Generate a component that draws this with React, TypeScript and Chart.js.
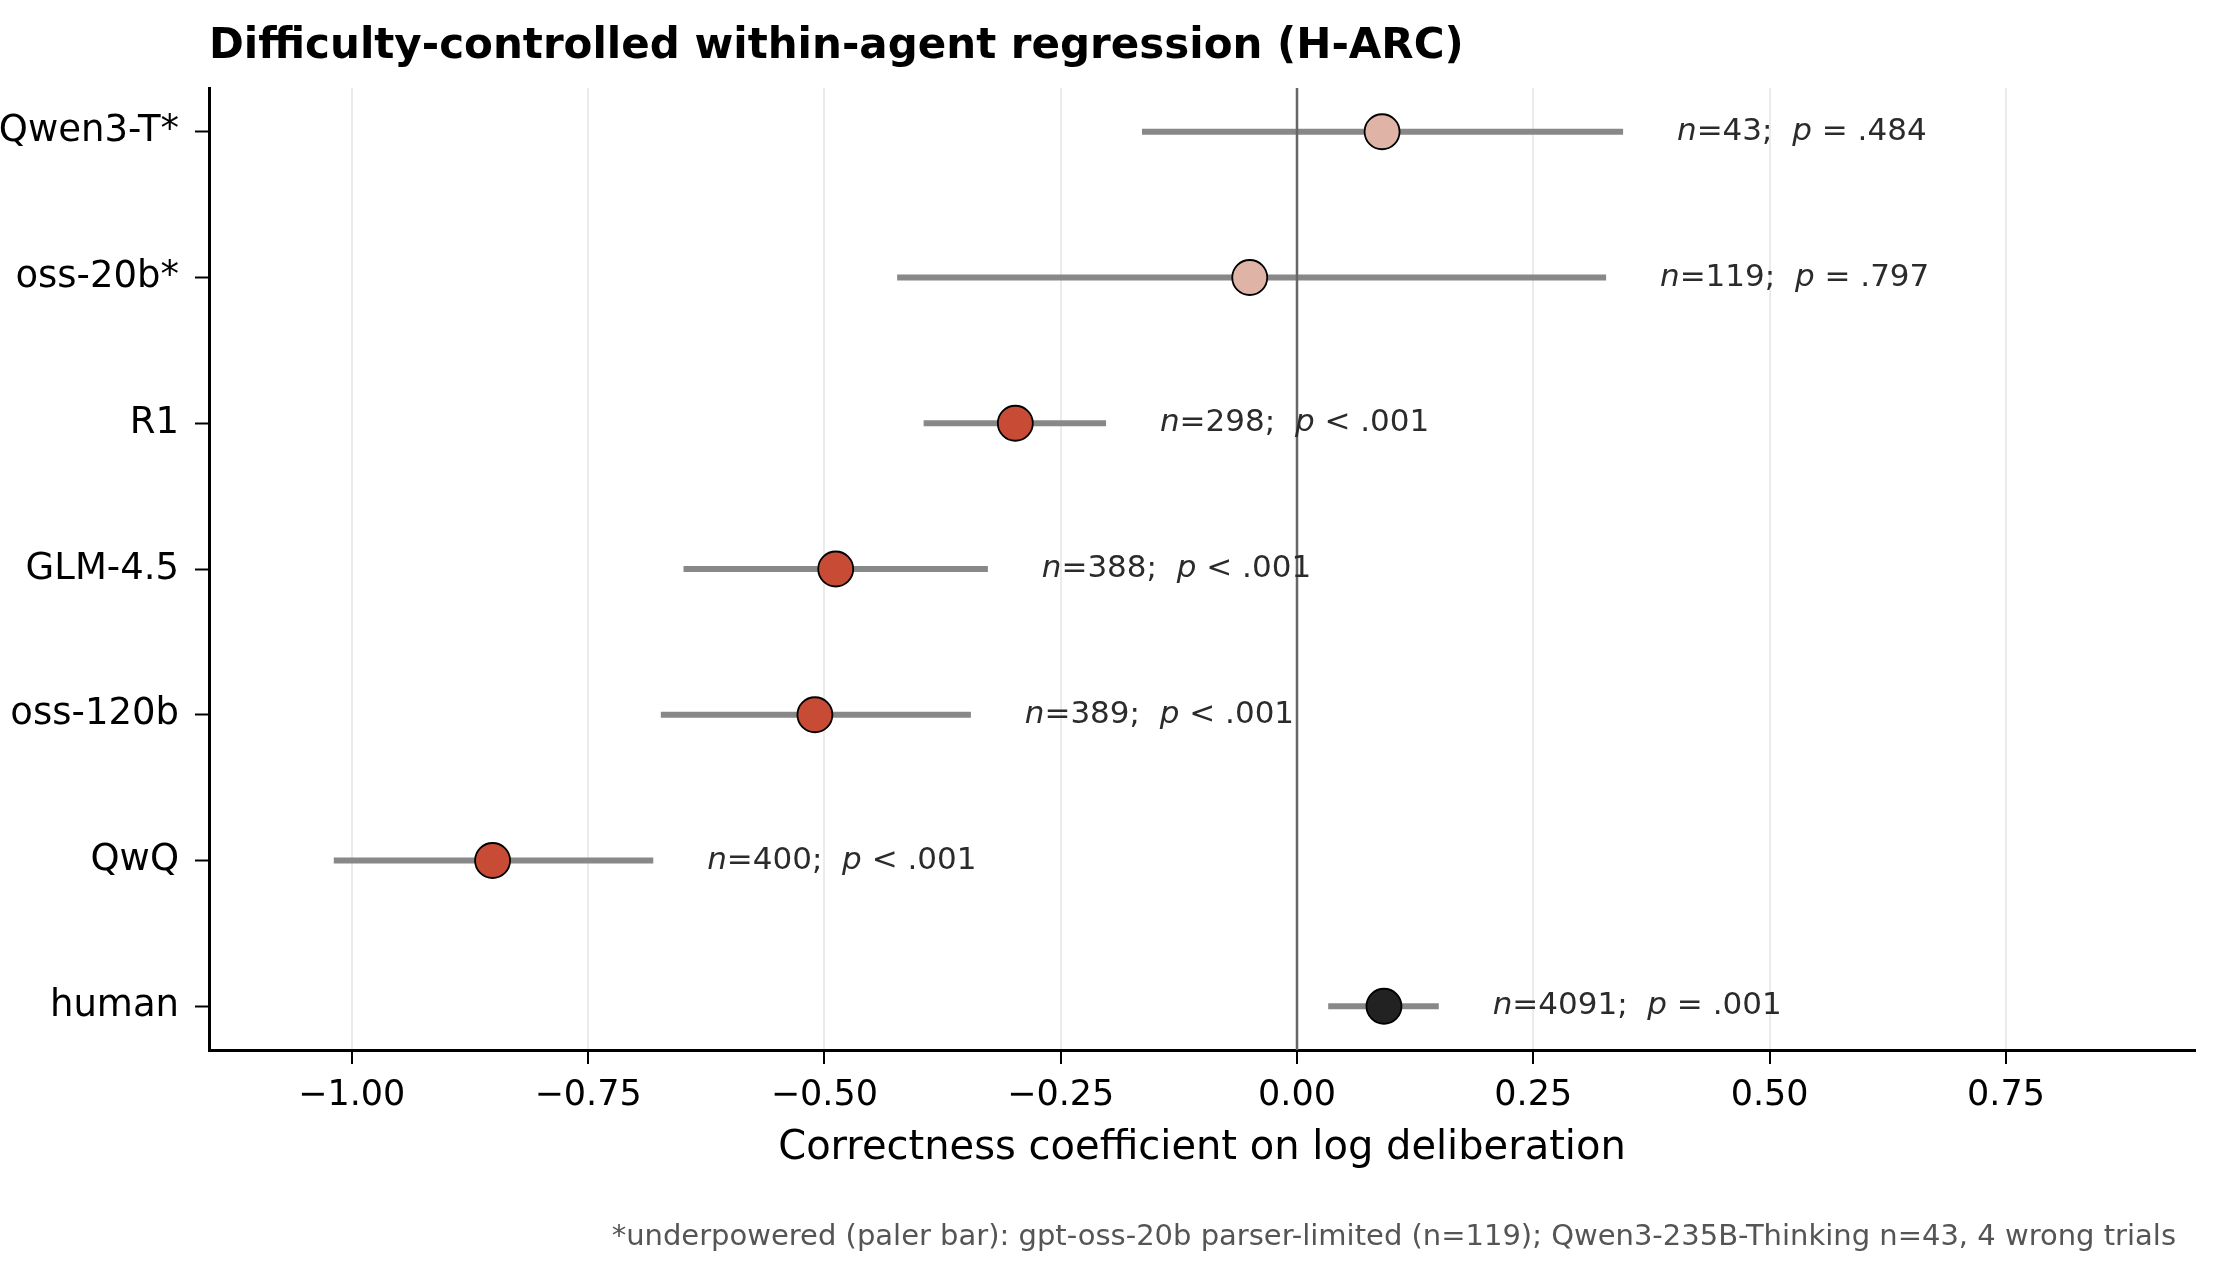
import React, { useEffect, useRef } from "react";
import { Chart, registerables } from "chart.js";

Chart.register(...registerables);

const categories = ["Qwen3-T*", "oss-20b*", "R1", "GLM-4.5", "oss-120b", "QwQ", "human"];
const estimates = [0.09, -0.05, -0.298, -0.488, -0.51, -0.851, 0.092];
const ciLow = [-0.164, -0.423, -0.395, -0.649, -0.673, -1.019, 0.033];
const ciHigh = [0.345, 0.327, -0.202, -0.327, -0.345, -0.681, 0.15];
const nValues = [43, 119, 298, 388, 389, 400, 4091];
const pLabels = ["= .484", "= .797", "< .001", "< .001", "< .001", "< .001", "= .001"];
const groups = ["underpowered", "underpowered", "sig", "sig", "sig", "sig", "human"];
const xTicks = [-1, -0.75, -0.5, -0.25, 0, 0.25, 0.5, 0.75];

const TITLE = "Difficulty-controlled within-agent regression (H-ARC)";
const X_LABEL = "Correctness coefficient on log deliberation";
const FOOTNOTE =
  "*underpowered (paler bar): gpt-oss-20b parser-limited (n=119); Qwen3-235B-Thinking n=43, 4 wrong trials";

const groupColors: Record<string, string> = {
  underpowered: "#e0b3a7",
  sig: "#c84b36",
  human: "#222222",
};

const FONT = "'DejaVu Sans', sans-serif";

const overlayPlugin = {
  id: "overlay",
  afterDraw(chart: any) {
    const ctx = chart.ctx;
    const area = chart.chartArea;
    const xs = chart.scales.x;
    const ys = chart.scales.y;
    ctx.save();
    // title
    ctx.fillStyle = "#000";
    ctx.font = `bold 42px ${FONT}`;
    ctx.textAlign = "left";
    ctx.textBaseline = "middle";
    ctx.fillText(TITLE, area.left, 47);
    // x label
    ctx.font = `40px ${FONT}`;
    ctx.textAlign = "center";
    ctx.fillText(X_LABEL, (area.left + area.right) / 2, 1149);
    // footnote
    ctx.font = `29px ${FONT}`;
    ctx.fillStyle = "#555555";
    ctx.textAlign = "right";
    ctx.fillText(FOOTNOTE, 2176, 1237);
    // annotations
    ctx.fillStyle = "#2b2b2b";
    ctx.textAlign = "left";
    const italic = `italic 31px ${FONT}`;
    const normal = `31px ${FONT}`;
    categories.forEach((_, i) => {
      let x = xs.getPixelForValue(ciHigh[i] + 0.057);
      const y = ys.getPixelForValue(i);
      const parts: [string, string][] = [
        ["n", italic],
        [`=${nValues[i]};  `, normal],
        ["p", italic],
        [` ${pLabels[i]}`, normal],
      ];
      parts.forEach(([t, f]) => {
        ctx.font = f;
        ctx.fillText(t, x, y);
        x += ctx.measureText(t).width;
      });
    });
    ctx.restore();
  },
};

export default function App() {
  const ref = useRef<HTMLCanvasElement | null>(null);
  useEffect(() => {
    if (!ref.current) return;
    const ciDatasets = categories.map((c, i) => ({
      type: "scatter" as const,
      label: `${c} CI`,
      data: [
        { x: ciLow[i], y: i },
        { x: ciHigh[i], y: i },
      ],
      showLine: true,
      borderColor: "#888888",
      borderWidth: 6,
      borderCapStyle: "butt",
      pointRadius: 0,
      order: 3,
    }));
    const chart = new Chart(ref.current, {
      type: "scatter",
      data: {
        datasets: [
          ...ciDatasets,
          {
            label: "zero",
            data: [
              { x: 0, y: -0.3 },
              { x: 0, y: 6.3 },
            ],
            showLine: true,
            borderColor: "#666666",
            borderWidth: 2.5,
            pointRadius: 0,
            order: 2,
          },
          {
            label: "estimate",
            data: estimates.map((v, i) => ({ x: v, y: i })),
            pointRadius: 17.5,
            pointHoverRadius: 17.5,
            pointBorderWidth: 1.8,
            pointBorderColor: "#000000",
            pointBackgroundColor: groups.map((g) => groupColors[g]),
            order: 0,
          },
        ] as any,
      },
      options: {
        animation: false,
        responsive: false,
        devicePixelRatio: 1,
        layout: { padding: { left: 0, right: 30, top: 88, bottom: 92 } },
        plugins: { legend: { display: false }, tooltip: { enabled: false } },
        scales: {
          x: {
            type: "linear",
            min: -1.151,
            max: 0.95,
            afterFit: (s: any) => {
              s.height = 140;
            },
            afterBuildTicks: (s: any) => {
              s.ticks = xTicks.map((v) => ({ value: v }));
            },
            ticks: {
              color: "#000",
              font: { family: FONT, size: 35 },
              padding: 11,
              maxRotation: 0,
              autoSkip: false,
              callback: (v: any) => Number(v).toFixed(2).replace("-", "\u2212"),
            },
            grid: {
              color: "#ebebeb",
              lineWidth: 2,
              tickColor: "#000",
              tickWidth: 2,
              tickLength: 14,
            },
            border: { display: true, color: "#000", width: 3 },
          },
          y: {
            type: "linear",
            min: -0.3,
            max: 6.3,
            reverse: true,
            afterFit: (s: any) => {
              s.width = 209;
            },
            afterBuildTicks: (s: any) => {
              s.ticks = categories.map((_, i) => ({ value: i }));
            },
            ticks: {
              color: "#000",
              font: { family: FONT, size: 37 },
              padding: 16,
              autoSkip: false,
              callback: (v: any) => categories[Number(v)] ?? "",
            },
            grid: {
              drawOnChartArea: false,
              tickColor: "#000",
              tickWidth: 2,
              tickLength: 14,
            },
            border: { display: true, color: "#000", width: 3 },
          },
        },
      },
      plugins: [overlayPlugin],
    });
    return () => chart.destroy();
  }, []);
  return (
    <div style={{ position: "absolute", left: 0, top: 0, width: 2225, height: 1282, background: "#fff" }}>
      <canvas ref={ref} width={2225} height={1282} style={{ display: "block" }} />
    </div>
  );
}
